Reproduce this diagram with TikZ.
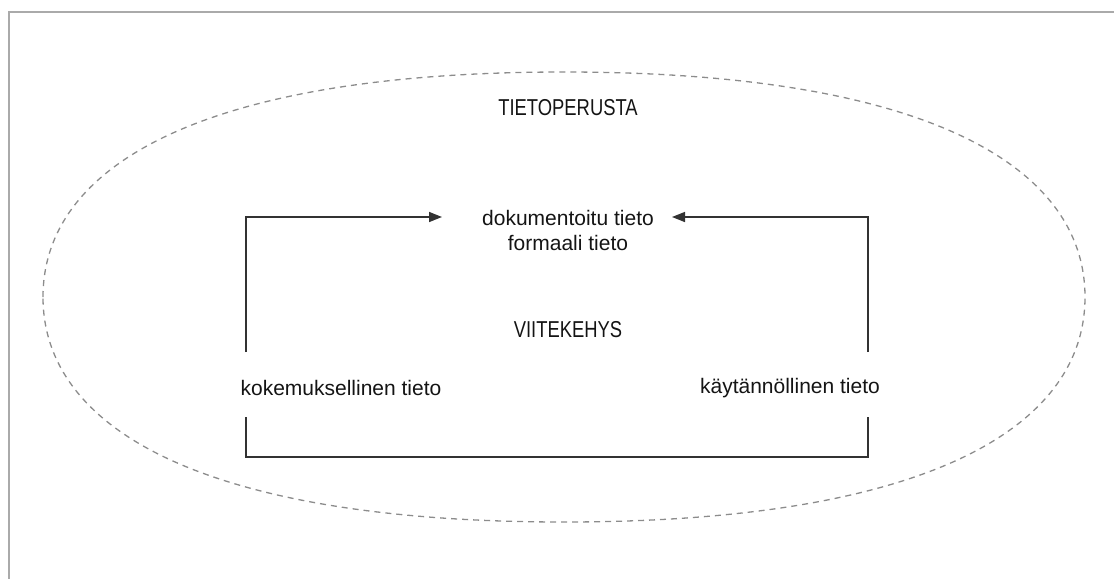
\documentclass[tikz,border=0pt]{standalone}
\usepackage{fontspec}
\setmainfont{Liberation Sans}
\newfontfamily\capsfont[FakeStretch=0.8]{Liberation Sans}
\usetikzlibrary{arrows.meta}
\definecolor{framegray}{RGB}{170,170,170}
\definecolor{dashgray}{RGB}{140,140,140}
\definecolor{linegray}{RGB}{50,50,50}
\definecolor{textgray}{RGB}{20,20,20}
\tikzset{
  lbl/.style={font=\fontsize{21}{25}\selectfont, text=textgray, inner sep=0pt, align=center},
  caplbl/.style={font=\capsfont\fontsize{23}{27}\selectfont, text=textgray, inner sep=0pt},
  conn/.style={draw=linegray, line width=1.5pt},
  arrowconn/.style={conn, -{Triangle[length=13pt, width=10pt]}},
  basedash/.style={draw=dashgray, line width=1.3pt, dash pattern=on 6pt off 5pt},
  framebox/.style={draw=framegray, line width=1.5pt}
}
\begin{document}
\begin{tikzpicture}[x=1pt, y=-1pt]
  \useasboundingbox (0,0) rectangle (1114,579);
  % outer frame (open to the right and bottom)
  \draw[framebox] (1114,12) -- (9,12) -- (9,579);
  % knowledge base boundary: a flattened oval
  \draw[basedash]
    (43,297) .. controls (43,165) and (204,72) .. (564,72)
             .. controls (924,72) and (1085,165) .. (1085,297)
             .. controls (1085,429) and (924,522) .. (564,522)
             .. controls (204,522) and (43,429) .. cycle;

  % labels
  \node[caplbl] (base) at (568,108) {TIETOPERUSTA};
  \node[lbl] (doc) at (568,230) {dokumentoitu tieto\\formaali tieto};
  \node[caplbl] (frame) at (568,330) {VIITEKEHYS};
  \node[lbl] (exp) at (341,388) {kokemuksellinen tieto};
  \node[lbl] (prac) at (790,388) {käytännöllinen tieto};

  % connector anchor points
  \coordinate (ltop) at (246,352);
  \coordinate (ltip) at (442,217);
  \coordinate (rtop) at (868,352);
  \coordinate (rtip) at (672,217);
  \coordinate (lbot) at (246,417);
  \coordinate (rbot) at (868,417);

  % arrows into documented knowledge
  \draw[arrowconn] (ltop) |- (ltip);
  \draw[arrowconn] (rtop) |- (rtip);
  % bracket joining the two kinds of knowledge
  \draw[conn] (lbot) -- (246,457) -- (868,457) -- (rbot);
\end{tikzpicture}
\end{document}
